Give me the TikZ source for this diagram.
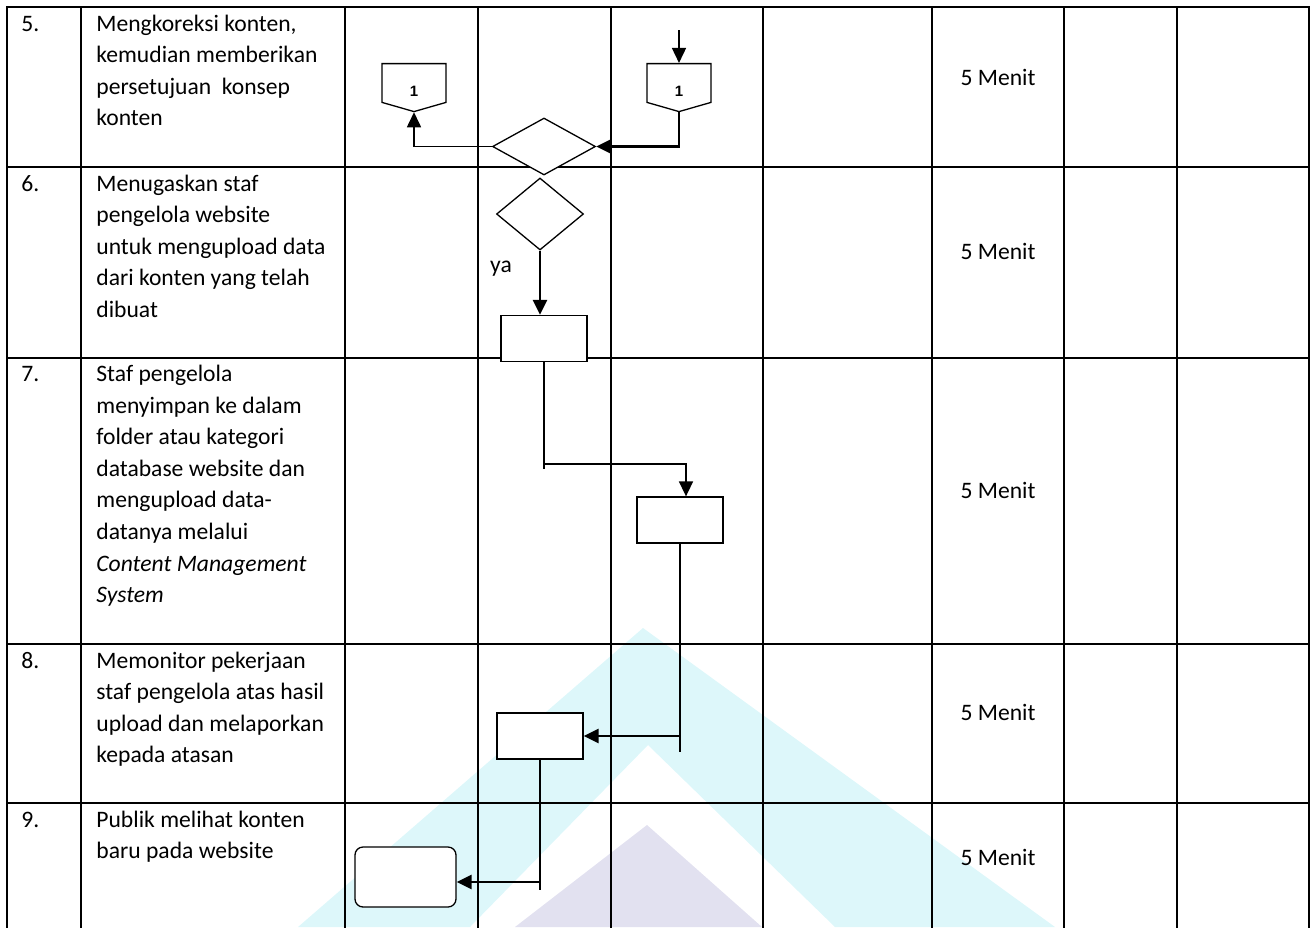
\documentclass[tikz,border=0pt]{standalone}
\usepackage{fontspec}
\setmainfont{Carlito}
\newfontfamily\numfont{Liberation Sans}
\usetikzlibrary{arrows.meta,positioning,shapes.geometric,shapes.symbols}
\definecolor{wmCyan}{HTML}{DDF7FA}
\definecolor{wmLav}{HTML}{E2E1F0}
\newcommand{\cellfont}{\fontsize{11.8pt}{15.8pt}\selectfont}

\begin{document}
\begin{tikzpicture}[
  x=0.5pt, y=-0.5pt,
  grid/.style={line width=1pt, line cap=rect},
  cell/.style={anchor=north west, inner sep=0pt, align=left, font=\cellfont},
  menit/.style={anchor=base, inner sep=0pt, font=\cellfont},
  proc/.style={draw, line width=0.65pt, fill=white, minimum width=43pt,
               minimum height=23pt, inner sep=0pt},
  term/.style={proc, rounded corners=4pt, minimum width=50.5pt, minimum height=30pt},
  dec/.style={draw, line width=0.65pt, fill=white, diamond, inner sep=0pt},
  conn/.style={draw, line width=0.65pt, fill=white, signal, signal to=south,
               signal pointer angle=148, minimum width=32pt, minimum height=20pt,
               inner sep=0pt, text height=13.9pt, text depth=0pt,
               font=\numfont\bfseries\fontsize{7.5pt}{9pt}\selectfont},
  line/.style={line width=0.75pt},
  arr/.style={line width=0.8pt, -{Triangle[length=7.5pt,width=7pt]}},
  arrw/.style={line width=1.2pt, -{Triangle[length=7.5pt,width=7pt]}}
]
\useasboundingbox (0,0) rectangle (1312,927);

% watermark
\fill[wmCyan] (298,927) -- (643,628) -- (1055,927) -- (835,927) -- (648,745) -- (470,927) -- cycle;
\fill[wmLav] (515,927) -- (647,825) -- (762,927) -- cycle;

% table
\foreach \y in {7,167,357.5,644,803}
  \draw[grid] (7,\y) -- (1309,\y);
\foreach \x in {7,81,345,478,611,763,932,1064,1177,1309}
  \draw[grid] (\x,7) -- (\x,927);

\foreach \y/\k in {7/5,167/6,357.5/7,644/8,803/9}
  \node[cell] (no\k) at (21,\y+1.5) {\strut\k.};

\node[cell] (s5) at (96,8.5) {\strut Mengkoreksi konten,\\kemudian memberikan\\persetujuan~ konsep\\konten};
\node[cell] (s6) at (96,168.5) {\strut Menugaskan staf\\pengelola website\\untuk mengupload data\\dari konten yang telah\\dibuat};
\node[cell] (s7) at (96,359) {\strut Staf pengelola\\menyimpan ke dalam\\folder atau kategori\\database website dan\\mengupload data-\\datanya melalui\\\textit{Content Management}\\\textit{System}};
\node[cell] (s8) at (96,645.5) {\strut Memonitor pekerjaan\\staf pengelola atas hasil\\upload dan melaporkan\\kepada atasan};
\node[cell] (s9) at (96,804.5) {\strut Publik melihat konten\\baru pada website};

\foreach \k/\m in {5/85,6/259,7/498,8/720,9/865}
  \node[menit] (t\k) at (998,\m) {5 Menit};

% flow
\node[conn] (cl) at (414,83) {1};
\node[conn] (cr) at (679,83) {1};
\node[dec, minimum width=51.5pt, minimum height=28.5pt] (d1) at (544,146.5) {};
\node[dec, minimum width=43.5pt, minimum height=36pt] (d2) at (540,214) {};
\node[proc] (p1) at (544,338.5) {};
\node[proc] (p2) at (680,520) {};
\node[proc] (p3) at (540,736) {};
\node[term] (pub) at (405.5,877) {};

\coordinate (in) at (679,30);
\coordinate (k1) at (544,464);
\coordinate (e2) at (680,752);
\coordinate (e3) at (540,890);

\draw[arr] (in) -- (cr);
\draw[arrw] (cr.south) |- (d1.east);
\draw[arr] (d1.west) -| (cl.south);
\draw[arrw] (d2.south) -- node[pos=.28, left=13.5pt, inner sep=0pt, font=\cellfont] {ya} (d2.south |- p1.north);
\draw[line] (p1.south) -- ([yshift=-2.5pt]p1.south |- k1);
\draw[arr] (p1.south |- k1) -| ([xshift=3pt]p2.north);
\draw[line] (p2.south) -- (e2);
\draw[arrw] (p2.south |- p3.east) -- (p3.east);
\draw[line] (p3.south) -- (e3);
\draw[arrw] ([yshift=-2.5pt]p3.south |- pub.east) -- ([yshift=-2.5pt]pub.east);
\end{tikzpicture}
\end{document}
